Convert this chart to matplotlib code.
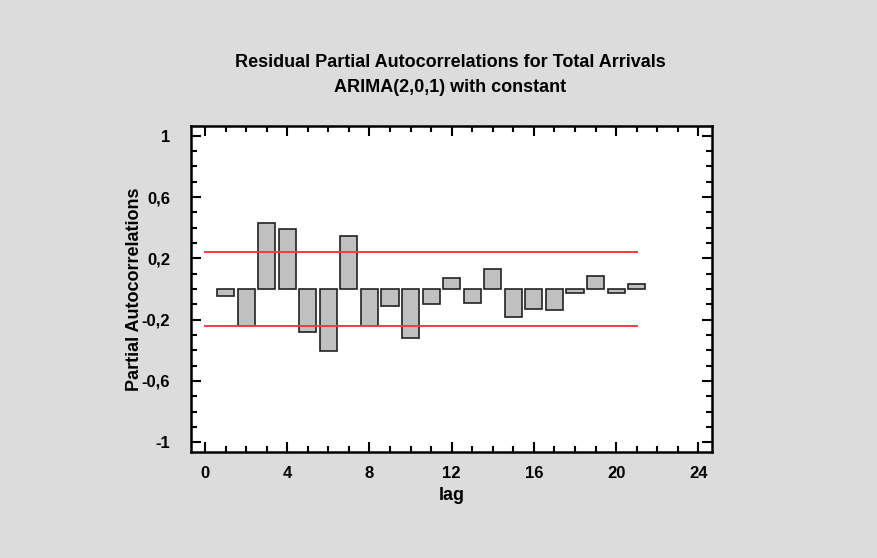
import matplotlib

matplotlib.use("Agg")
import matplotlib.pyplot as plt
from matplotlib.ticker import FixedLocator, MultipleLocator, FuncFormatter

plt.rcParams["font.family"] = ["Liberation Sans", "DejaVu Sans"]

# ------------------------------------------------------------------ data
LAGS = list(range(1, 22))
PACF = [-0.043, -0.243, 0.434, 0.391, -0.278, -0.404, 0.343, -0.243, -0.109, -0.323,
        -0.098, 0.074, -0.091, 0.128, -0.182, -0.128, -0.137, -0.028, 0.085, -0.028, 0.030]
LIMIT = 0.243
LIMIT_LAGS = [0, 21]
YTICKS = [-1, -0.6, -0.2, 0.2, 0.6, 1]
XTICKS = [0, 4, 8, 12, 16, 20, 24]

BG = "#dcdcdc"

fig = plt.figure(figsize=(8.78, 5.58), dpi=100, facecolor=BG)
ax = fig.add_axes([0.2175, 0.1894, 0.5938, 0.5853])
ax.set_facecolor("white")

ax.bar(LAGS, PACF, width=0.83, color="#c0c0c0", edgecolor="#222222", linewidth=1.2, zorder=2)
for s in (LIMIT, -LIMIT):
    ax.plot(LIMIT_LAGS, [s, s], color="#ff3b3b", linewidth=1.4, zorder=3)

ax.set_xlim(-0.68, 24.68)
ax.set_ylim(-1.066, 1.066)
ax.xaxis.set_major_locator(FixedLocator(XTICKS))
ax.xaxis.set_minor_locator(MultipleLocator(1))
ax.yaxis.set_major_locator(FixedLocator(YTICKS))
ax.yaxis.set_minor_locator(MultipleLocator(0.1))
ax.yaxis.set_major_formatter(FuncFormatter(lambda v, p: f"{v:g}".replace(".", ",")))

ax.tick_params(which="both", direction="in", top=True, right=True, width=1.5,
               labelsize=12)
ax.tick_params(which="major", length=7)
ax.tick_params(which="minor", length=4)
ax.tick_params(axis="x", which="major", pad=10)
ax.tick_params(axis="y", which="major", pad=15)
for lab in ax.get_xticklabels() + ax.get_yticklabels():
    lab.set_fontweight("bold")
for sp in ax.spines.values():
    sp.set_linewidth(1.8)

ax.set_xlabel("lag", fontsize=13, fontweight="bold", labelpad=4)
ax.set_ylabel("Partial Autocorrelations", fontsize=13, fontweight="bold", labelpad=-1)

fig.text(0.513, 0.888, "Residual Partial Autocorrelations for Total Arrivals",
         ha="center", va="center", fontsize=13, fontweight="bold")
fig.text(0.513, 0.843, "ARIMA(2,0,1) with constant",
         ha="center", va="center", fontsize=13, fontweight="bold")

fig.savefig("out.png", dpi=100, facecolor=BG)
